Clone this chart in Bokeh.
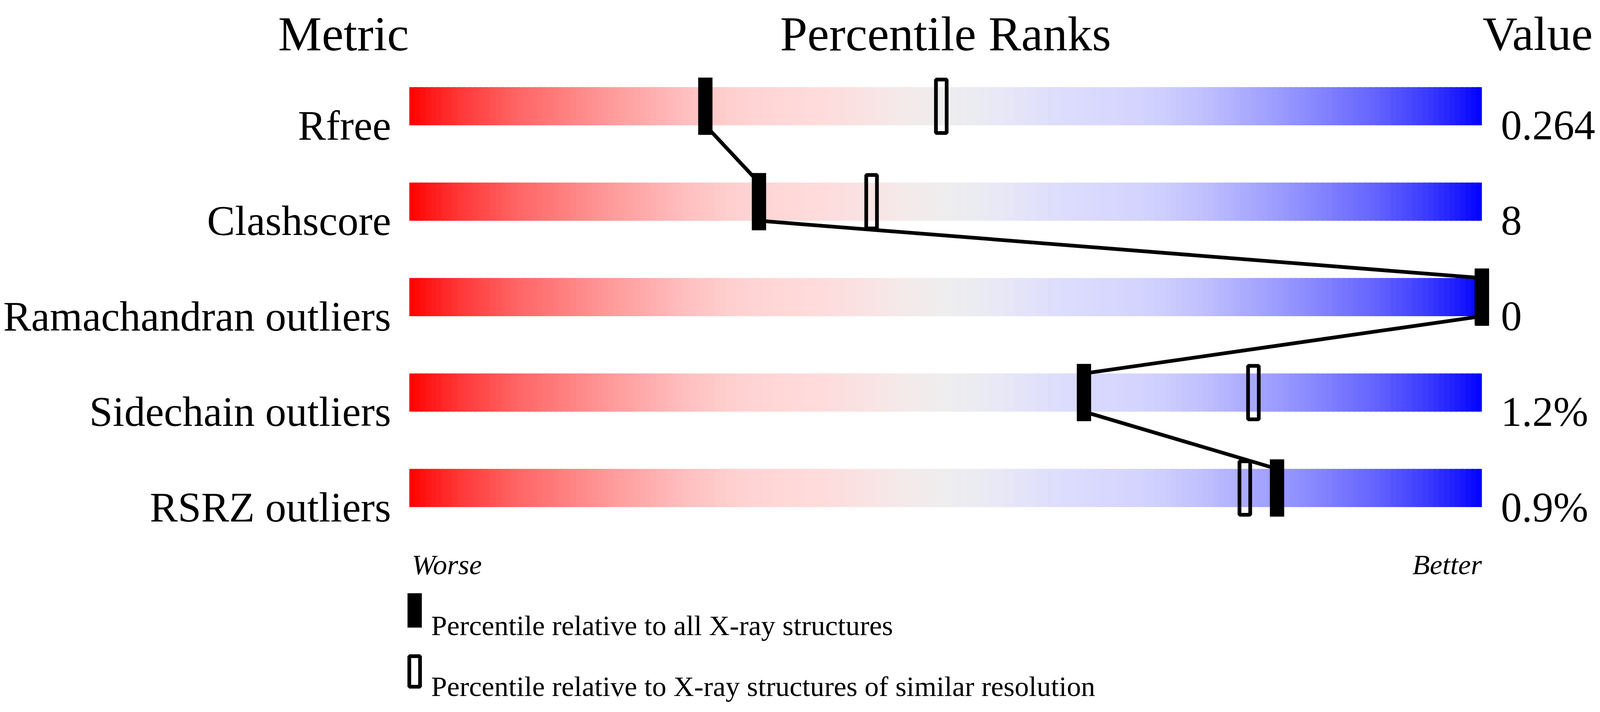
from bokeh.plotting import figure
from bokeh.models import Range1d, ColumnDataSource
from bokeh.core.properties import value
from bokeh.embed import file_html
from bokeh.resources import INLINE

# ---------------- data ----------------
metrics = ["Rfree", "Clashscore", "Ramachandran outliers", "Sidechain outliers", "RSRZ outliers"]
metric_values = ["0.264", "8", "0", "1.2%", "0.9%"]
pct_all = [27.6, 32.6, 100.0, 62.9, 80.9]        # percentile relative to all X-ray structures
pct_similar = [49.6, 43.1, 100.0, 78.7, 77.9]    # percentile relative to similar resolution
headers = ["Metric", "Percentile Ranks", "Value"]
scale_labels = ["Worse", "Better"]
legend_labels = ["Percentile relative to all X-ray structures",
                 "Percentile relative to X-ray structures of similar resolution"]

# ---------------- layout ----------------
SX = 4105 / 4485            # css px per reference px, horizontally
SY = 0.978                  # css px per reference px, vertically
SF = 0.91                   # font scale
MARGIN = 8
W = 4105 - 2 * MARGIN - 4
H = 1824 - 2 * MARGIN - 8
BAR_LEFT_PX = 1153.0        # reference px
PX_PER_PCT = 30.0
ROW0_PX = 286.0
ROW_PX = 250.0

def X(px):
    return (px - BAR_LEFT_PX) / PX_PER_PCT

def Y(py):
    return (py - ROW0_PX) / ROW_PX

def fs(px):
    return value("%.1fpx" % (px * SF))

SERIF = value("Liberation Serif")
LW = 9.5

p = figure(width=W, height=H, output_backend="svg", toolbar_location=None,
           x_range=Range1d(X(MARGIN / SX), X((MARGIN + W) / SX)),
           y_range=Range1d(Y((MARGIN + H) / SY), Y(MARGIN / SY)),
           x_axis_location=None, y_axis_location=None, min_border=0)
p.grid.visible = False
p.outline_line_color = None
p.background_fill_color = "white"
p.border_fill_color = "white"

# ---------------- gradient colours ----------------
light_stops = [(0, 0), (2, 25), (5, 58), (10, 100), (18, 150), (26, 192), (31, 210),
               (36, 217), (40, 222), (45, 232), (50, 238)]
main_stops = [(0, 255), (38, 255), (45, 246), (50, 238)]

def interp(stops, t):
    for (a, va), (b, vb) in zip(stops[:-1], stops[1:]):
        if a <= t <= b:
            return va + (vb - va) * (t - a) / (b - a)
    return stops[-1][1]

def grad_color(t):
    if t <= 50:
        r = interp(main_stops, t)
        g = interp(light_stops, t)
        return "#%02x%02x%02x" % (int(round(r)), int(round(g)), int(round(g)))
    m = 100 - t
    b = interp(main_stops, m)
    rg = interp(light_stops, m)
    return "#%02x%02x%02x" % (int(round(rg)), int(round(rg)), int(round(b)))

N = 200
step = 100.0 / N
L, R, T, B, C = [], [], [], [], []
for i in range(len(metrics)):
    for k in range(N):
        l = k * step
        L.append(l)
        R.append(min(l + step * 1.6, 100.0))
        T.append(i - 0.2)
        B.append(i + 0.2)
        C.append(grad_color(l + step / 2))
p.quad(left=L, right=R, top=T, bottom=B, fill_color=C, line_color=None)

# ---------------- connecting line ----------------
rows = list(range(len(metrics)))
seg = ColumnDataSource(dict(x0=pct_all[:-1], y0=[r + 0.2 for r in rows[:-1]],
                            x1=pct_all[1:], y1=[r - 0.2 for r in rows[1:]]))
p.segment(x0="x0", y0="y0", x1="x1", y1="y1", source=seg, line_color="black", line_width=LW)

# ---------------- markers ----------------
p.rect(x=pct_similar, y=rows, width=1.0, height=0.56, fill_alpha=0,
       line_color="black", line_width=LW)
p.rect(x=pct_all, y=rows, width=40 / PX_PER_PCT, height=0.6, fill_color="black", line_color=None)

# ---------------- texts ----------------
p.text(x=[X(1102)] * len(metrics), y=[r + 0.2 for r in rows], text=metrics,
       text_font=SERIF, text_font_size=fs(118), text_align="right",
       text_baseline="alphabetic", text_color="black")
p.text(x=[X(4206)] * len(metrics), y=[r + 0.2 for r in rows], text=metric_values,
       text_font=SERIF, text_font_size=fs(118), text_align="left",
       text_baseline="alphabetic", text_color="black")

p.text(x=[X(969), 50.0], y=[Y(96)] * 2, text=headers[:2], text_font=SERIF,
       text_font_size=fs(138), text_align="center", text_baseline="alphabetic")
p.text(x=[X(4155)], y=[Y(96)], text=headers[2:], text_font=SERIF,
       text_font_size=fs(136), text_align="left", text_baseline="alphabetic")

p.text(x=[X(1160)], y=[Y(1487)], text=scale_labels[:1], text_font=SERIF, text_font_style="italic",
       text_font_size=fs(80), text_align="left", text_baseline="alphabetic")
p.text(x=[100.0], y=[Y(1487)], text=scale_labels[1:], text_font=SERIF, text_font_style="italic",
       text_font_size=fs(80), text_align="right", text_baseline="alphabetic")

# ---------------- legend ----------------
lx = X(1168)
p.rect(x=[lx], y=[Y(1606.5)], width=40 / PX_PER_PCT, height=90 / ROW_PX,
       fill_color="black", line_color=None)
p.rect(x=[lx], y=[Y(1766.5)], width=30 / PX_PER_PCT, height=80 / ROW_PX,
       fill_alpha=0, line_color="black", line_width=LW)
p.text(x=[X(1214)] * 2, y=[Y(1646), Y(1806)], text=legend_labels, text_font=SERIF,
       text_font_size=fs(80), text_align="left", text_baseline="alphabetic")

open("out.html", "w").write(file_html(p, INLINE))
